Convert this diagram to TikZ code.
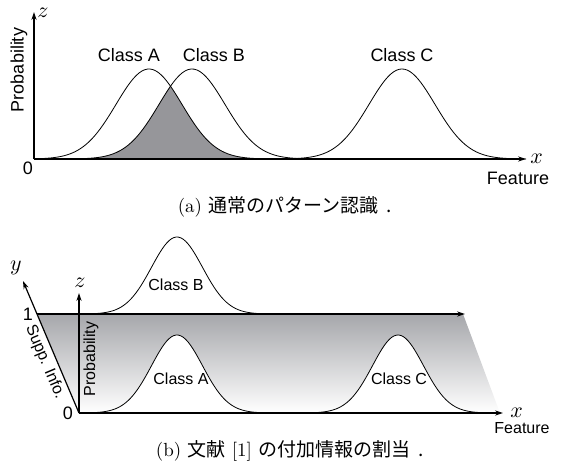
\documentclass[tikz,border=0pt]{standalone}
\usepackage{fontspec}
\newfontfamily\lblfont{Liberation Sans}
\newfontfamily\jpfont{Noto Sans CJK JP}
\usetikzlibrary{arrows.meta}
\definecolor{overlapgray}{RGB}{150,150,154}
\definecolor{suppgray}{RGB}{166,167,171}
\tikzset{
  axis/.style={line width=0.6pt,-{Stealth[length=4pt,width=2.6pt]}},
  curve/.style={line width=0.4pt},
  lbla/.style={font=\lblfont\fontsize{9}{10}\selectfont,inner sep=1pt},
  lblb/.style={font=\lblfont\fontsize{8}{9}\selectfont,inner sep=1pt},
  axlbl/.style={font=\fontsize{11}{12}\selectfont,inner sep=1pt},
  caption/.style={font=\fontsize{9.5}{11}\selectfont},
}
\begin{document}
\begin{tikzpicture}[x=0.5pt,y=-0.5pt]
\useasboundingbox (0,0) rectangle (561,465);

% (a) usual pattern recognition
\coordinate (oa) at (34,159);
\coordinate (za) at (34,12);
\coordinate (xa) at (526,159);

\fill[overlapgray] (60,159)
  -- plot[domain=60:170.5,samples=60] (\x,{159-90*exp(-0.5*((\x-192)/33)^2)})
  -- plot[domain=170.5:282,samples=60] (\x,{159-90*exp(-0.5*((\x-149)/33)^2)})
  -- cycle;
\foreach \mu/\lo/\hi in {149/34/280,192/60/325,402/280/526}
  \draw[curve] plot[domain=\lo:\hi,samples=90] (\x,{159-90*exp(-0.5*((\x-\mu)/33)^2)});

\draw[axis] (oa) -- (za);
\draw[axis] (oa) -- (xa);

\node[axlbl,anchor=west] (zlbla) at (35,13) {$z$};
\node[axlbl,anchor=west] (xlbla) at (528,159) {$x$};
\node[lbla] (zeroa) at (28,168) {0};
\node[lbla] (feata) at (518,178) {Feature};
\node[lbla,rotate=90] (proba) at (19,70) {Probability};
\node[lbla] (classa) at (129,55) {Class A};
\node[lbla] (classb) at (214,55) {Class B};
\node[lbla] (classc) at (402,55) {Class C};

\node[caption] (capa) at (285,207) {(a) {\jpfont 通常のパターン認識\hspace{0.45em}.}};

% (b) supplementary information
\coordinate (ob) at (79,413);
\coordinate (zb) at (79,293);
\coordinate (yb) at (23,281);
\coordinate (xb) at (503,413);
\coordinate (ob1) at (37,314);
\coordinate (xb1) at (465,314);

\shade[top color=suppgray,bottom color=white] (ob1) -- (463,314) -- (500,413) -- (ob) -- cycle;
\foreach \mu/\lo/\hi in {177/79/290,398/290/500}
  \filldraw[curve,fill=white] plot[domain=\lo:\hi,samples=90] (\x,{413-78*exp(-0.5*((\x-\mu)/25.5)^2)}) -- cycle;
\draw[curve] plot[domain=79:290,samples=90] (\x,{314-77*exp(-0.5*((\x-177)/25.5)^2)});

\draw[axis] (ob) -- (zb);
\draw[axis] (ob) -- (yb);
\draw[axis] (ob1) -- (xb1);
\draw[axis] (ob) -- (xb);

\node[axlbl] (zlblb) at (80,283) {$z$};
\node[axlbl] (ylblb) at (16,268) {$y$};
\node[axlbl,anchor=west] (xlblb) at (508,413) {$x$};
\node[lbla] (zerob) at (68,413) {0};
\node[lbla] (oneb) at (28,314) {1};
\node[lblb] (featb) at (522,428) {Feature};
\node[lblb,rotate=90] (probb) at (91,359) {Probability};
\node[lblb,rotate=-67] (suppb) at (45,362) {Supp. Info.};
\node[lblb] (classbb) at (176,285) {Class B};
\node[lblb] (classab) at (181,379) {Class A};
\node[lblb] (classcb) at (399,379) {Class C};

\node[caption] (capb) at (290,451) {(b) {\jpfont 文献} [1] {\jpfont の付加情報の割当\hspace{0.45em}.}};
\end{tikzpicture}
\end{document}
